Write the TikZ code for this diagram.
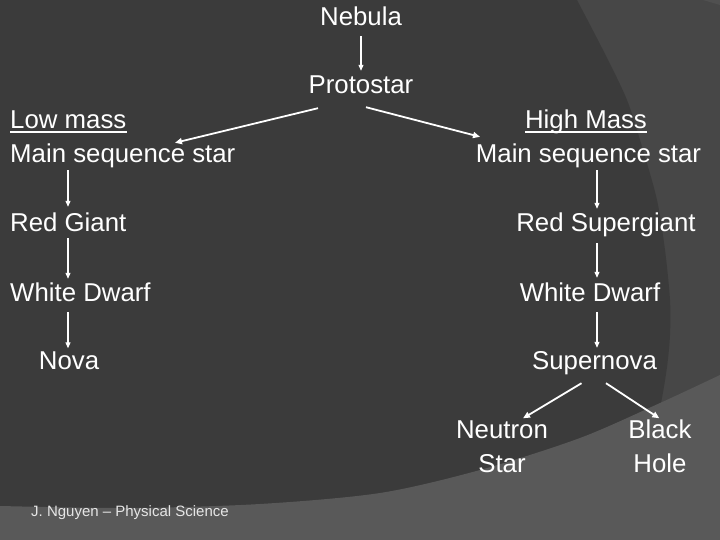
\documentclass[tikz,border=0pt]{standalone}
\usepackage{fontspec}
\setmainfont{Liberation Sans}
\usetikzlibrary{arrows.meta,calc}
\definecolor{bgdark}{HTML}{3B3B3B}
\definecolor{bgmid}{HTML}{474747}
\definecolor{bglight}{HTML}{595959}
\definecolor{bgpatch}{HTML}{505050}
\definecolor{foot}{HTML}{E6E6E6}
\begin{document}
\begin{tikzpicture}[x=1pt,y=-1pt,
  lbl/.style={text=white,font=\fontsize{25.8}{34}\selectfont,inner sep=0pt,text height=19pt,text depth=5pt,anchor=base},
  lbltwo/.style={text=white,font=\fontsize{25.8}{34}\selectfont,inner sep=0pt,align=center,anchor=north},
  arr/.style={draw=white,line width=1.1pt,-{Triangle[length=6pt,width=5pt]}},
  arrT/.style={draw=white,line width=1.8pt,-{Triangle[length=7pt,width=6pt]}},
  uline/.style={draw=white,line width=1.3pt}
]
\useasboundingbox (0,0) rectangle (720,540);
\clip (0,0) rectangle (720,540);
% background
\fill[bgmid] (0,0) rectangle (720,540);
\fill[bgpatch] (703,0) -- (720,0) -- (720,5) -- cycle;
\fill[bgdark] (0,0) -- plot[smooth] coordinates {(577,0) (603,50) (627,100) (643,150) (657,200) (665,250) (670,300) (670,335) (667,367) (661,403) (650,450) (630,545)} -- (0,545) -- cycle;
\fill[bglight] (0,545) -- plot[smooth] coordinates {(0,506) (130,508) (260,504) (380,493) (480,470) (580,438) (660,403) (720,375) (730,370)} -- (730,545) -- cycle;

% nodes
\node[lbl] (neb) at (361,26) {Nebula};
\node[lbl] (pro) at (361,94) {Protostar};
\node[lbl,anchor=base west] (lm) at (10,129) {Low mass};
\node[lbl,anchor=base west] (ms1) at (10,163) {Main sequence star};
\node[lbl,anchor=base west] (rg) at (10,232) {Red Giant};
\node[lbl,anchor=base west] (wd1) at (10,301) {White Dwarf};
\node[lbl] (nova) at (69,369) {Nova};
\node[lbl] (hm) at (586,129) {High Mass};
\node[lbl] (ms2) at (588.5,163) {Main sequence star};
\node[lbl] (rs) at (606,232) {Red Supergiant};
\node[lbl] (wd2) at (590,301) {White Dwarf};
\node[lbl] (sn) at (594.5,369) {Supernova};
\node[lbltwo] (ns) at (502,419) {\rule{0pt}{19pt}Neutron\\Star};
\node[lbltwo] (bh) at (660,419) {\rule{0pt}{19pt}Black\\Hole};
\node[anchor=base west,inner sep=0pt,text=foot,font=\fontsize{15}{18}\selectfont] (ft) at (31,516) {J. Nguyen – Physical Science};

% underlines
\draw[uline] ($(lm.base west)+(0,3)$) -- ($(lm.base east)+(0,3)$);
\draw[uline] ($(hm.base west)+(0,3)$) -- ($(hm.base east)+(0,3)$);

% connectors
\draw[arr] ($(neb.south)+(0,5)$) -- ($(pro.north)+(0,-4)$);
\draw[arrT] ($(pro.south)+(-43,9)$) -- ($(ms1.north west)+(165,-1)$);
\draw[arrT] ($(pro.south)+(5,8)$) -- ($(ms2.north)+(-108.5,-7)$);

\draw[arr] ($(ms1.south west)+(58,2)$) -- ($(rg.north west)+(58,-6)$);
\draw[arr] ($(rg.south west)+(58,1)$) -- ($(wd1.north west)+(58,-3)$);
\draw[arr] ($(wd1.south west)+(58,6)$) -- ($(nova.north)+(-1,-1.5)$);

\draw[arr] ($(ms2.south)+(8.5,2)$) -- ($(rs.north)+(-9,-4)$);
\draw[arr] ($(rs.south)+(-9,6)$) -- ($(wd2.north)+(7,-4)$);
\draw[arr] ($(wd2.south)+(7,5.6)$) -- ($(sn.north)+(2.5,-2)$);

\draw[arrT] ($(sn.south)+(-13,9)$) -- ($(ns.north)+(21,-0.7)$);
\draw[arrT] ($(sn.south)+(11.5,9)$) -- ($(bh.north)+(-0.7,-0.7)$);
\end{tikzpicture}
\end{document}
